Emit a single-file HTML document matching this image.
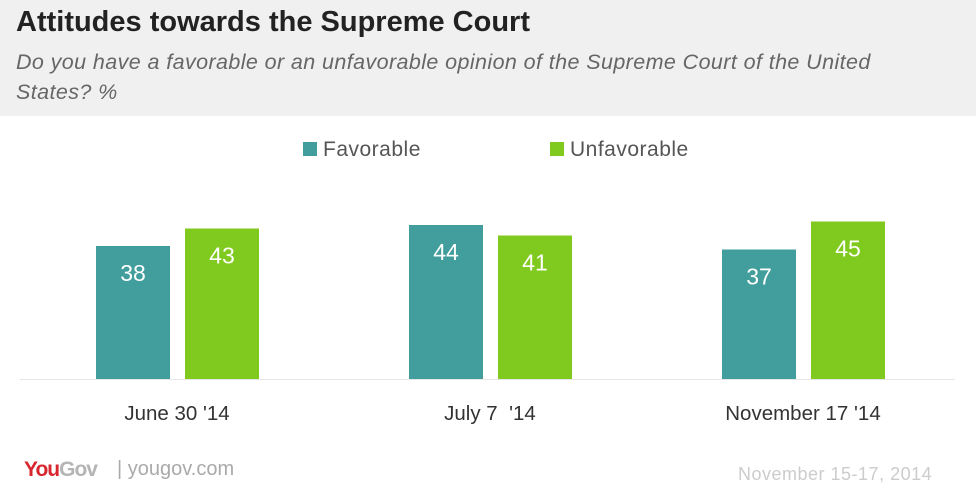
<!DOCTYPE html>
<html><head><meta charset="utf-8"><style>
body{margin:0;width:976px;height:497px;background:#fff;font-family:"Liberation Sans",sans-serif;overflow:hidden;position:relative}
.hdr{position:absolute;left:0;top:0;width:976px;height:116px;background:#f0f0f0}
.title{position:absolute;left:16px;top:6px;font-size:29px;font-weight:bold;color:#222}
.sub{position:absolute;left:16px;top:47px;width:880px;font-size:21.5px;font-style:italic;color:#666;line-height:30px;letter-spacing:0.4px}
.foot{position:absolute;top:458px;font-size:19px}
</style></head><body>
<div class="hdr"></div>
<div class="title">Attitudes towards the Supreme Court</div>
<div class="sub">Do you have a favorable or an unfavorable opinion of the Supreme Court of the United States? %</div>
<svg id="c" width="976" height="497" style="position:absolute;left:0;top:0"></svg>
<div class="foot" style="left:24px;font-weight:bold;font-size:21px;letter-spacing:-1px"><span style="color:#d8262f">You</span><span style="color:#b5b5b5">Gov</span></div>
<div class="foot" style="left:117px;color:#aaa;font-size:20px">| yougov.com</div>
<div class="foot" style="left:738px;top:464px;color:#ccc;font-size:18px;letter-spacing:0.5px">November 15-17, 2014</div>
<script>
const categories=["June 30 '14","July 7  '14","November 17 '14"];
const favorable=[38,44,37];
const unfavorable=[43,41,45];
const seriesNames=["Favorable","Unfavorable"];
const colors=["#429e9d","#80c91e"];
const svg=document.getElementById('c');
const NS='http://www.w3.org/2000/svg';
const base=379, scale=3.5;
function y(v){return base-v*scale;}
function x(i){return 177+i*313;}
function mk(t,a){const e=document.createElementNS(NS,t);for(const k in a)e.setAttribute(k,a[k]);svg.appendChild(e);return e;}
const bl=mk('line',{x1:20,x2:955,y1:base+0.5,y2:base+0.5,stroke:'#e6e6e6'});


[favorable,unfavorable].forEach((arr,s)=>{
  arr.forEach((v,i)=>{
    const bx=x(i)+(s===0?-81:8);
    const r=mk('rect',{x:bx,y:y(v),width:74,height:base-y(v),fill:colors[s]});
    
    
    const t=mk('text',{x:bx+37,y:y(v)+35,'text-anchor':'middle',fill:'#fff','font-size':23});
    t.textContent=v;
    
    
  });
});
categories.forEach((c,i)=>{
  const t=mk('text',{x:x(i),y:420,'text-anchor':'middle',fill:'#333','font-size':20.5});
  t.style.whiteSpace='pre';
  t.textContent=c;
  
  
});
const lx=[303,550];
seriesNames.forEach((n,s)=>{
  const r=mk('rect',{x:lx[s],y:142,width:14,height:14,fill:colors[s]});
  
  
  const t=mk('text',{x:lx[s]+20,y:156,fill:'#555','font-size':21,'letter-spacing':'0.5'});
  t.textContent=n;
  
  
});
</script>
</body></html>
